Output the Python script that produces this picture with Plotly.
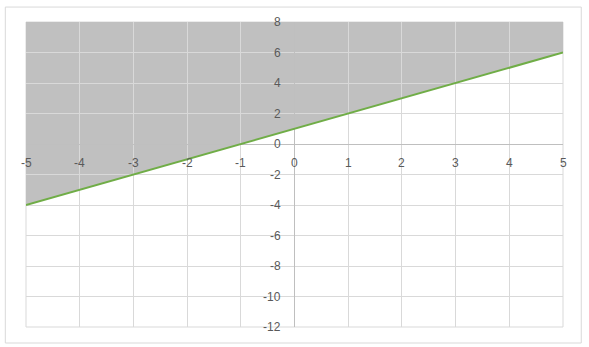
import plotly.graph_objects as go

# Data
x_line = [-5, 5]
y_line = [-4, 6]          # y = x + 1
y_top = 8
x_ticks = [-5, -4, -3, -2, -1, 0, 1, 2, 3, 4, 5]
y_ticks = [-12, -10, -8, -6, -4, -2, 0, 2, 4, 6, 8]

x_range = [-5, 5]
y_range = [-12, 8]

fig = go.Figure()

# shaded region above the line (drawn below gridlines, like Excel)
path = "M {} {} L {} {} L {} {} L {} {} Z".format(
    x_line[0], y_line[0], x_line[1], y_line[1], x_line[1], y_top, x_line[0], y_top)
fig.add_shape(type="path", path=path, xref="x", yref="y",
              fillcolor="#C0C0C0", line=dict(width=0), layer="below")

fig.add_trace(go.Scatter(x=x_line, y=y_line, mode="lines",
                         line=dict(color="#70AD47", width=2), showlegend=False,
                         hoverinfo="skip"))

font = dict(family="Liberation Sans", size=12, color="#595959")

fig.update_layout(
    width=589, height=347,
    margin=dict(l=26, r=26, t=22, b=20),
    paper_bgcolor="white", plot_bgcolor="white",
    showlegend=False,
    xaxis=dict(range=x_range, tickvals=x_ticks, showticklabels=False,
               showgrid=True, gridcolor="#D9D9D9", gridwidth=1,
               zeroline=True, zerolinecolor="#BFBFBF", zerolinewidth=1,
               showline=False, ticks=""),
    yaxis=dict(range=y_range, tickvals=y_ticks, showticklabels=False,
               showgrid=True, gridcolor="#D9D9D9", gridwidth=1,
               zeroline=True, zerolinecolor="#BFBFBF", zerolinewidth=1,
               showline=False, ticks=""),
)

# tick labels at the crossing axes
for v in x_ticks:
    fig.add_annotation(x=v, y=0, xref="x", yref="y", text=str(v), showarrow=False,
                       xanchor="center", yanchor="middle", yshift=-19, font=font)
for v in y_ticks:
    fig.add_annotation(x=0, y=v, xref="x", yref="y", text=str(v), showarrow=False,
                       xanchor="right", yanchor="middle", xshift=-12, font=font)

# plot-area border and chart frame
fig.add_shape(type="rect", xref="paper", yref="paper", x0=0, y0=0, x1=1, y1=1,
              line=dict(color="#D9D9D9", width=1), layer="below")
fig.add_shape(type="rect", xref="paper", yref="paper", x0=-0.0385, y0=-0.0525,
              x1=1.034, y1=1.049, line=dict(color="#D9D9D9", width=1))

fig.write_html("out.html")
